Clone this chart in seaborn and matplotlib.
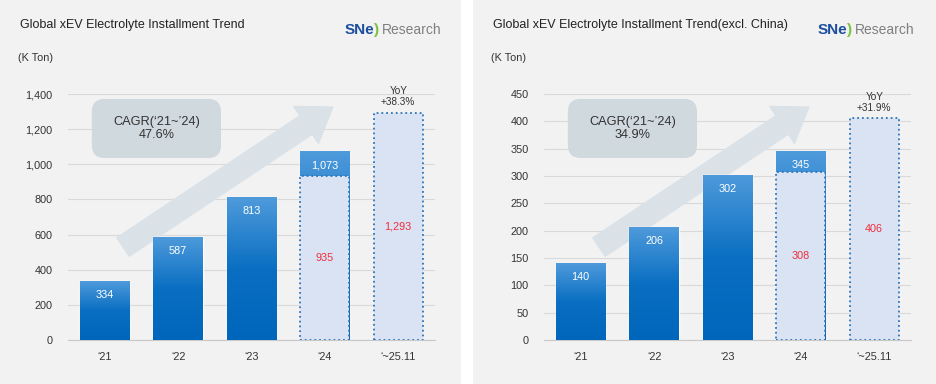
import numpy as np
import pandas as pd
import matplotlib.pyplot as plt
import seaborn as sns
from matplotlib.patches import Rectangle, FancyBboxPatch
from matplotlib.colors import LinearSegmentedColormap
from matplotlib.ticker import FuncFormatter

years = ['‘21', '‘22', '‘23', '‘24', '‘~25.11']

# full-year installments (K Ton)
glob_full = [334, 587, 813, 1073, np.nan]
glob_ytd = [np.nan, np.nan, np.nan, 935, 1293]
glob_cagr = '47.6%'
glob_yoy = '+38.3%'

exc_full = [140, 206, 302, 345, np.nan]
exc_ytd = [np.nan, np.nan, np.nan, 308, 406]
exc_cagr = '34.9%'
exc_yoy = '+31.9%'

sns.set_style('white')
plt.rcParams['font.family'] = ['Liberation Sans', 'DejaVu Sans']

grad = LinearSegmentedColormap.from_list('bar', ['#0066bb', '#0a6fc2', '#4e9adb'])
panel_gray = '#f2f2f2'
txt = '#333333'

fig = plt.figure(figsize=(9.36, 3.84), dpi=100)
fig.patch.set_facecolor('white')
fig.patches.append(Rectangle((0, 0), 461 / 936, 1, transform=fig.transFigure,
                             facecolor=panel_gray, edgecolor='none', zorder=-10))
fig.patches.append(Rectangle((473 / 936, 0), 1 - 473 / 936, 1, transform=fig.transFigure,
                             facecolor=panel_gray, edgecolor='none', zorder=-10))


def draw_panel(left, full, ytd, ymax, step, cagr, yoy, title, px0):
    ax = fig.add_axes([left, 0.1146, 0.392, 0.6406])
    ax.set_facecolor('none')
    df = pd.DataFrame({'year': years, 'full': full, 'ytd': ytd})

    sns.barplot(data=df, x='year', y='full', order=years, ax=ax, width=0.67,
                color='#0a6fc2', saturation=1, zorder=3)
    solid = list(ax.patches)
    sns.barplot(data=df, x='year', y='ytd', order=years, ax=ax, width=0.67,
                color='#dae3f3', saturation=1, edgecolor='#2e75b6',
                linestyle=':', linewidth=1.3, zorder=4)

    # gradient fill on the solid bars
    for p in solid:
        h = p.get_height()
        if not np.isfinite(h) or h <= 0:
            continue
        x0, w = p.get_x(), p.get_width()
        im = ax.imshow(np.linspace(0, 1, 100).reshape(-1, 1), cmap=grad, origin='lower',
                       extent=[x0, x0 + w, 0, h], aspect='auto', zorder=3)
        im.set_clip_path(p)
        p.set_facecolor('none')

    ax.set_xlim(-0.5, 4.5)
    ax.set_ylim(0, ymax)
    ax.set_yticks(np.arange(0, ymax + 1, step))
    ax.yaxis.set_major_formatter(FuncFormatter(lambda v, _: f'{v:,.0f}'))
    ax.grid(axis='y', color='#d9d9d9', linewidth=0.8, zorder=0)
    ax.set_axisbelow(True)
    for s in ['top', 'right', 'left']:
        ax.spines[s].set_visible(False)
    ax.spines['bottom'].set_color('#c8c8c8')
    ax.spines['bottom'].set_linewidth(0.8)
    ax.set_xticks(np.arange(-0.5, 5, 1), minor=True)
    ax.tick_params(axis='x', which='minor', length=3, color='#c8c8c8', width=0.8)
    ax.tick_params(axis='x', which='major', length=0, pad=9, labelsize=7.8, labelcolor=txt)
    ax.tick_params(axis='y', length=0, pad=11, labelsize=7.8, labelcolor=txt)
    ax.set_xlabel('')
    ax.set_ylabel('')

    # value labels
    for i, v in enumerate(full):
        if np.isfinite(v):
            ax.annotate(f'{v:,.0f}', (i, v), xytext=(0, -10), textcoords='offset points',
                        ha='center', va='center', color='white', fontsize=7.8, zorder=6)
    for i, v in enumerate(ytd):
        if np.isfinite(v):
            ax.text(i, v / 2, f'{v:,.0f}', ha='center', va='center',
                    color='#ee2f3c', fontsize=7.8, zorder=6)
    last = len(years) - 1
    ax.annotate(f'YoY\n{yoy}', (last, ytd[last]), xytext=(0, 4), textcoords='offset points',
                ha='center', va='bottom', color=txt, fontsize=7.2, linespacing=1.1, zorder=6)

    # CAGR box + trend arrow
    ax.add_patch(FancyBboxPatch((0.065, 0.74), 0.352, 0.24, transform=ax.transAxes,
                                boxstyle='round,pad=0,rounding_size=0.035',
                                facecolor='#d0d9de', edgecolor='none', zorder=2,
                                mutation_aspect=1.5))
    ax.text(0.241, 0.86, f'CAGR(‘21~’24)\n{cagr}', transform=ax.transAxes, ha='center',
            va='center', fontsize=9.2, color=txt, linespacing=1.05, zorder=5)
    ax.annotate('', xy=(0.722, 0.947), xytext=(0.15, 0.378),
                xycoords='axes fraction', textcoords='axes fraction',
                arrowprops=dict(arrowstyle='simple,head_length=1.45,head_width=2.0,tail_width=1.0',
                                mutation_scale=16, color='#dbe2e7', shrinkA=0, shrinkB=0),
                zorder=1)

    # headings
    fig.text(px0 / 936, 0.935, title, ha='left', va='center', fontsize=9, color='#222222')
    fig.text(px0 / 936 - 2 / 936, 0.849, '(K Ton)', ha='left', va='center', fontsize=7.8, color=txt)
    return ax


draw_panel(68 / 936, glob_full, glob_ytd, 1400, 200, glob_cagr, glob_yoy,
           'Global xEV Electrolyte Installment Trend', 20)
draw_panel(544 / 936, exc_full, exc_ytd, 450, 50, exc_cagr, exc_yoy,
           'Global xEV Electrolyte Installment Trend(excl. China)', 493)

# SNE Research logos
for lx in [345, 818]:
    fig.text(lx / 936, 0.922, 'SNe', ha='left', va='center', fontsize=11,
             fontweight='bold', color='#1c4f9e')
    fig.text((lx + 29) / 936, 0.922, ')', ha='left', va='center', fontsize=11,
             fontweight='bold', color='#7cc242')
    fig.text((lx + 37) / 936, 0.922, 'Research', ha='left', va='center', fontsize=10,
             color='#7f7f7f')

fig.savefig('out.png', dpi=100, facecolor=fig.get_facecolor())
